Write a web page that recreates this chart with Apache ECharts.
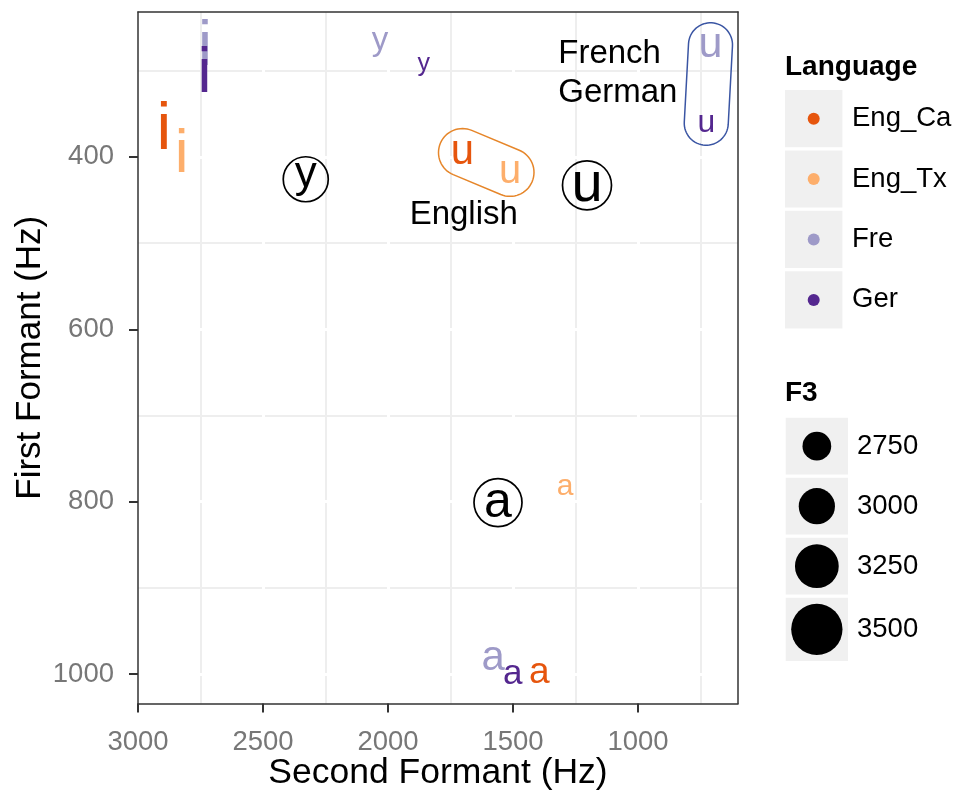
<!DOCTYPE html>
<html>
<head>
<meta charset="utf-8">
<script src="https://cdn.jsdelivr.net/npm/echarts@6/dist/echarts.min.js"></script>
<style>
  html, body { margin: 0; padding: 0; background: #fff; }
  #chart { width: 957px; height: 791px; }
</style>
</head>
<body>
<div id="chart"></div>
<script>
// ---- axis ranges and ticks (Hz) ----
const xRange = [600, 3000];
const yRange = [232, 1034];
const xMajorTicks = [1000, 1500, 2000, 2500, 3000];
const xMinorTicks = [750, 1250, 1750, 2250, 2750];
const yMajorTicks = [400, 600, 800, 1000];
const yMinorTicks = [300, 500, 700, 900];

// ---- vowel measurements per language: F1, F2, F3 (Hz) ----
const languages = ['Eng_Ca', 'Eng_Tx', 'Fre', 'Ger'];

const engCaVowels = ['i', 'u', 'a'];
const engCaF1 = [362, 395, 998];
const engCaF2 = [2897, 1702, 1395];
const engCaF3 = [3450, 2840, 2720];

const engTxVowels = ['i', 'u', 'a'];
const engTxF1 = [391, 418, 782];
const engTxF2 = [2825, 1512, 1292];
const engTxF3 = [3340, 2790, 2545];

const freVowels = ['i', 'y', 'u', 'a'];
const freF1 = [266, 269, 270, 981];
const freF2 = [2732, 2032, 710, 1579];
const freF3 = [3360, 2620, 2870, 2840];

const gerVowels = ['i', 'y', 'u', 'a'];
const gerF1 = [297, 296, 361, 1000];
const gerF2 = [2734, 1857, 727, 1501];
const gerF3 = [3360, 2420, 2590, 2670];

// F3 legend breaks
const f3Breaks = [2750, 3000, 3250, 3500];

// reference (circled) vowel qualities
const refVowels = ['y', 'u', 'a'];
const refF1 = [426, 433, 801];
const refF2 = [2329, 1204, 1560];

// group annotations
const groupNames = ['French', 'German', 'English'];
const groupF1 = [281, 326, 467];
const groupF2 = [1319, 1319, 1697];

// languages whose /u/ tokens are enclosed together
const hullLanguages = [['Eng_Ca', 'Eng_Tx'], ['Fre', 'Ger']];
const hullVowel = 'u';

// ---- styling ----
const FONT = '"Liberation Sans", Arial, Helvetica, sans-serif';
const languageColors = { Eng_Ca: '#e6550d', Eng_Tx: '#fdae6b', Fre: '#9e9ac8', Ger: '#54278f' };
const hullColors = ['#e6862a', '#3a55a3'];
const hullRadius = [24, 22];
const refStyle = { y: { font: 44, circle: 45 }, u: { font: 56, circle: 49 }, a: { font: 50, circle: 48 } };

const languageData = {
  Eng_Ca: { vowels: engCaVowels, f1: engCaF1, f2: engCaF2, f3: engCaF3 },
  Eng_Tx: { vowels: engTxVowels, f1: engTxF1, f2: engTxF2, f3: engTxF3 },
  Fre: { vowels: freVowels, f1: freF1, f2: freF2, f3: freF3 },
  Ger: { vowels: gerVowels, f1: gerF1, f2: gerF2, f3: gerF3 }
};

// F3 -> text size (px); legend dots are 0.75 of the text size
const sizeDomain = [2400, 3500];
const sizeRange = [24.2, 68.4];
function fontForF3(v) {
  const t = (v - sizeDomain[0]) / (sizeDomain[1] - sizeDomain[0]);
  return sizeRange[0] + t * (sizeRange[1] - sizeRange[0]);
}

// vertical centre of each glyph's ink above the baseline (em), used to centre letters on their point
const MIDDLE = 0.26;
const glyphCentre = { i: 0.358, u: 0.26, a: 0.265, y: 0.155 };
function glyphOffset(ch, fs) {
  const g = glyphCentre[ch] !== undefined ? glyphCentre[ch] : MIDDLE;
  return [0, -(MIDDLE - g) * fs];
}

function capsule(a, b, r) {
  const ang = Math.atan2(b[1] - a[1], b[0] - a[0]);
  const pts = [];
  const n = 32;
  for (let i = 0; i <= n; i++) {
    const t = ang + Math.PI / 2 + Math.PI * i / n;
    pts.push([a[0] + r * Math.cos(t), a[1] + r * Math.sin(t)]);
  }
  for (let i = 0; i <= n; i++) {
    const t = ang - Math.PI / 2 + Math.PI * i / n;
    pts.push([b[0] + r * Math.cos(t), b[1] + r * Math.sin(t)]);
  }
  return pts;
}

// ---- axes ----
function baseAxis(range, extra) {
  return Object.assign({
    type: 'value', min: range[0], max: range[1], inverse: true, gridIndex: 0,
    axisLine: { show: false, onZero: false },
    axisTick: { show: false },
    axisLabel: { show: false },
    splitLine: { show: false }
  }, extra);
}
const inside = (ticks, range) => ticks.filter(v => v > range[0] && v < range[1]);
const plain = v => String(v);

const xAxes = [
  baseAxis(xRange, { z: 0, axisTick: { show: false, customValues: xMinorTicks },
    splitLine: { show: true, lineStyle: { color: '#eeeeee', width: 2 } } }),
  baseAxis(xRange, { z: 1, axisTick: { show: false, customValues: inside(xMajorTicks, xRange) },
    splitLine: { show: true, lineStyle: { color: '#ffffff', width: 3 } } }),
  baseAxis(xRange, { z: 3, position: 'bottom',
    axisLine: { show: true, onZero: false, lineStyle: { color: '#333', width: 1.5 } },
    axisTick: { show: true, length: 9, customValues: xMajorTicks, lineStyle: { color: '#333', width: 2 } },
    axisLabel: { show: true, customValues: xMajorTicks, formatter: plain, margin: 25, fontSize: 27.5, color: '#777', fontFamily: FONT },
    name: 'Second Formant (Hz)', nameLocation: 'middle', nameGap: 52, nameMoveOverlap: false,
    nameTextStyle: { fontSize: 35.5, color: '#000', fontFamily: FONT } }),
  baseAxis(xRange, { z: 3, position: 'top',
    axisLine: { show: true, onZero: false, lineStyle: { color: '#333', width: 1.5 } } })
];
const yAxes = [
  baseAxis(yRange, { z: 0, axisTick: { show: false, customValues: yMinorTicks },
    splitLine: { show: true, lineStyle: { color: '#eeeeee', width: 2 } } }),
  baseAxis(yRange, { z: 1, axisTick: { show: false, customValues: inside(yMajorTicks, yRange) },
    splitLine: { show: true, lineStyle: { color: '#ffffff', width: 3 } } }),
  baseAxis(yRange, { z: 3, position: 'left',
    axisLine: { show: true, onZero: false, lineStyle: { color: '#333', width: 1.5 } },
    axisTick: { show: true, length: 9, customValues: yMajorTicks, lineStyle: { color: '#333', width: 2 } },
    axisLabel: { show: true, customValues: yMajorTicks, formatter: plain, margin: 24, fontSize: 27.5, color: '#777', fontFamily: FONT },
    name: 'First Formant (Hz)', nameLocation: 'middle', nameGap: 90, nameMoveOverlap: false,
    nameTextStyle: { fontSize: 35, color: '#000', fontFamily: FONT } }),
  baseAxis(yRange, { z: 3, position: 'right',
    axisLine: { show: true, onZero: false, lineStyle: { color: '#333', width: 1.5 } } })
];

// ---- series ----
const languageSeries = languages.map((lang, k) => {
  const d = languageData[lang];
  return {
    name: lang, type: 'scatter', xAxisIndex: 2, yAxisIndex: 2,
    symbolSize: 0, silent: true, z: 4 + k,
    itemStyle: { opacity: 1 },
    data: d.vowels.map((v, j) => {
      const fs = fontForF3(d.f3[j]);
      return {
        value: [d.f2[j], d.f1[j], d.f3[j]], name: v,
        label: { show: true, position: 'inside', formatter: v, fontSize: fs, opacity: 1,
          color: languageColors[lang], fontFamily: FONT, offset: glyphOffset(v, fs) }
      };
    })
  };
});

const refSeries = {
  name: 'reference', type: 'scatter', xAxisIndex: 2, yAxisIndex: 2, silent: true, z: 3,
  symbol: 'circle',
  itemStyle: { color: 'rgba(0,0,0,0)', borderColor: '#000', borderWidth: 1.7, opacity: 1 },
  data: refVowels.map((v, j) => ({
    value: [refF2[j], refF1[j]], name: v,
    symbolSize: refStyle[v].circle,
    label: { show: true, position: 'inside', formatter: v, fontSize: refStyle[v].font, opacity: 1,
      color: '#000', fontFamily: FONT, offset: glyphOffset(v, refStyle[v].font) }
  }))
};

const groupSeries = {
  name: 'groups', type: 'scatter', xAxisIndex: 2, yAxisIndex: 2, silent: true, z: 3,
  symbolSize: 0,
  itemStyle: { opacity: 1 },
  data: groupNames.map((g, j) => ({
    value: [groupF2[j], groupF1[j]], name: g,
    label: { show: true, position: 'inside', formatter: g, fontSize: 33, color: '#000', opacity: 1,
      fontFamily: FONT, align: g === 'English' ? 'center' : 'left' }
  }))
};

const hullData = hullLanguages.map(pair => pair.flatMap(lang => {
  const d = languageData[lang];
  const j = d.vowels.indexOf(hullVowel);
  return [d.f2[j], d.f1[j]];
}));

const hullSeries = {
  name: 'hulls', type: 'custom', xAxisIndex: 2, yAxisIndex: 2, silent: true, z: 2,
  dimensions: ['x1', 'y1', 'x2', 'y2'],
  encode: { x: [0, 2], y: [1, 3] },
  data: hullData,
  renderItem: (params, api) => {
    const a = api.coord([api.value(0), api.value(1)]);
    const b = api.coord([api.value(2), api.value(3)]);
    return {
      type: 'polygon',
      shape: { points: capsule(a, b, hullRadius[params.dataIndex]) },
      style: { fill: 'none', stroke: hullColors[params.dataIndex], lineWidth: 1.5 }
    };
  }
};

// ---- legends (drawn as graphics) ----
function label(text, x, y, size, bold) {
  return {
    type: 'text', x: x, y: y, silent: true,
    style: { text: text, fontSize: size, fontWeight: bold ? 'bold' : 'normal', fontFamily: FONT,
      fill: '#000', align: 'left', verticalAlign: 'middle', textAlign: 'left', textVerticalAlign: 'middle' }
  };
}
const graphic = [];
graphic.push(label('Language', 785, 67, 28, true));
languages.forEach((lang, k) => {
  const top = 88.5 + k * 60.4;
  graphic.push({ type: 'rect', silent: true, shape: { x: 783.5, y: top, width: 60.4, height: 60.4 },
    style: { fill: '#f0f0f0', stroke: '#fff', lineWidth: 3 } });
  graphic.push({ type: 'circle', silent: true, shape: { cx: 813.7, cy: top + 30.2, r: 6 },
    style: { fill: languageColors[lang] } });
  graphic.push(label(lang, 852, top + 30.2, 27.5, false));
});
graphic.push(label('F3', 785, 393, 28, true));
const keyDiam = f3Breaks.map(b => 0.75 * fontForF3(b));
const keyW = Math.max.apply(null, keyDiam.map(d => d + 14));
let keyTop = 416.2;
f3Breaks.forEach((b, k) => {
  const d = keyDiam[k];
  const h = Math.max(60, d + 15);
  graphic.push({ type: 'rect', silent: true, shape: { x: 784.2, y: keyTop, width: keyW, height: h },
    style: { fill: '#f0f0f0', stroke: '#fff', lineWidth: 3 } });
  graphic.push({ type: 'circle', silent: true, shape: { cx: 784.2 + keyW / 2, cy: keyTop + h / 2, r: d / 2 },
    style: { fill: '#000' } });
  graphic.push(label(String(b), 857, keyTop + h / 2, 27.5, false));
  keyTop += h;
});

const chart = echarts.init(document.getElementById('chart'), null, { renderer: 'canvas' });
chart.setOption({
  animation: false,
  backgroundColor: '#fff',
  textStyle: { fontFamily: FONT },
  grid: { left: 138, top: 12, width: 600, height: 691.5, containLabel: false, outerBoundsMode: 'none',
    show: true, backgroundColor: '#fff', borderWidth: 0 },
  xAxis: xAxes,
  yAxis: yAxes,
  series: [hullSeries, refSeries, groupSeries].concat(languageSeries),
  graphic: graphic
});
</script>
</body>
</html>
